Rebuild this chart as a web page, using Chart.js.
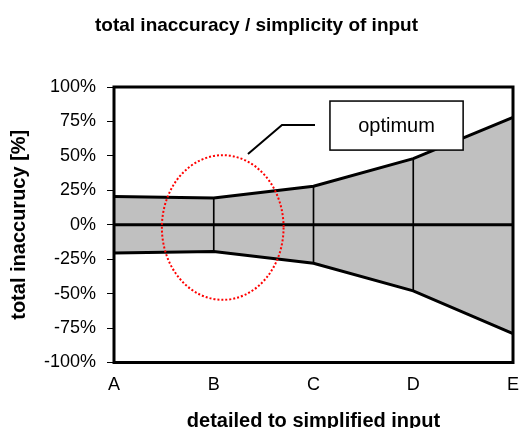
<!DOCTYPE html>
<html><head><meta charset="utf-8">
<script src="https://cdn.jsdelivr.net/npm/chart.js@4/dist/chart.umd.min.js"></script>
<style>html,body{margin:0;padding:0;background:#fff;} canvas{display:block;}</style>
</head><body>
<canvas id="c" width="520" height="428"></canvas>
<script>
// ---- data ----
const categories = ['A', 'B', 'C', 'D', 'E'];
const upperBound = [20.5, 19.5, 28, 48, 78];
const lowerBound = [-20.5, -19.5, -28, -48, -79];
const zeroLine = [0, 0, 0, 0, 0];
const yTickValues = [-100, -75, -50, -25, 0, 25, 50, 75, 100];
const chartTitle = 'total inaccuracy / simplicity of input';
const xTitle = 'detailed to simplified input';
const yTitle = 'total inaccurucy [%]';
const annotationText = 'optimum';
// annotation anchors in data coordinates (category index, percent)
const optimumEllipse = { x: 1.09, y: -2, rx: 0.61, ry: 52.5 };
const optimumBox = { x1: 2.165, x2: 3.5, y1: 89.8, y2: 54.2 };
const calloutPath = [[1.343, 51.3], [1.684, 72.4], [2.015, 72.4]];

// vertical dividers between bounds at inner categories
const dividers = categories.map((c, i) => (i === 0 || i === categories.length - 1) ? null : [lowerBound[i], upperBound[i]]);

const FONT = '"Liberation Sans", Arial, Helvetica, sans-serif';

const overlay = {
  id: 'overlay',
  afterDatasetsDraw(chart) {
    const { ctx, chartArea: a, scales: { x, y } } = chart;
    ctx.save();
    // plot border
    ctx.lineWidth = 3; ctx.strokeStyle = '#000';
    ctx.strokeRect(a.left, a.top, a.right - a.left, a.bottom - a.top);
    // callout line
    ctx.lineWidth = 2;
    ctx.beginPath();
    calloutPath.forEach((p, i) => {
      const px = x.getPixelForValue(p[0]), py = y.getPixelForValue(p[1]);
      if (i) ctx.lineTo(px, py); else ctx.moveTo(px, py);
    });
    ctx.stroke();
    // label box
    const bx1 = x.getPixelForValue(optimumBox.x1), bx2 = x.getPixelForValue(optimumBox.x2);
    const by1 = y.getPixelForValue(optimumBox.y1), by2 = y.getPixelForValue(optimumBox.y2);
    ctx.fillStyle = '#fff';
    ctx.fillRect(bx1, by1, bx2 - bx1, by2 - by1);
    ctx.lineWidth = 1.5; ctx.strokeStyle = '#000';
    ctx.strokeRect(bx1, by1, bx2 - bx1, by2 - by1);
    ctx.fillStyle = '#000';
    ctx.font = '20px ' + FONT;
    ctx.textAlign = 'center'; ctx.textBaseline = 'middle';
    ctx.fillText(annotationText, (bx1 + bx2) / 2, (by1 + by2) / 2 + 1);
    // dotted ellipse
    const cx = x.getPixelForValue(optimumEllipse.x), cy = y.getPixelForValue(optimumEllipse.y);
    const rx = x.getPixelForValue(optimumEllipse.x + optimumEllipse.rx) - cx;
    const ry = cy - y.getPixelForValue(optimumEllipse.y + optimumEllipse.ry);
    ctx.setLineDash([2, 2]);
    ctx.strokeStyle = '#ff0000'; ctx.lineWidth = 2;
    ctx.beginPath(); ctx.ellipse(cx, cy, rx, ry, 0, 0, Math.PI * 2); ctx.stroke();
    ctx.restore();
  }
};

new Chart(document.getElementById('c'), {
  type: 'line',
  data: {
    labels: categories,
    datasets: [
      { label: 'upper', data: upperBound, borderColor: '#000', borderWidth: 3, pointRadius: 0,
        fill: '+1', backgroundColor: '#c0c0c0', tension: 0, order: 1 },
      { label: 'lower', data: lowerBound, borderColor: '#000', borderWidth: 3, pointRadius: 0,
        fill: false, tension: 0, order: 1 },
      { label: 'zero', data: zeroLine, borderColor: '#000', borderWidth: 3, pointRadius: 0,
        fill: false, order: 0 },
      { type: 'bar', label: 'dividers', data: dividers, backgroundColor: '#000', borderWidth: 0,
        barThickness: 1, order: 2 }
    ]
  },
  options: {
    responsive: false,
    devicePixelRatio: 1,
    animation: false,
    layout: { padding: { left: 0, right: 7, top: 0, bottom: 0 } },
    plugins: {
      legend: { display: false },
      tooltip: { enabled: false },
      filler: { drawTime: 'beforeDatasetsDraw' },
      title: {
        display: true, text: chartTitle, color: '#000',
        font: { family: FONT, size: 19, weight: 'bold' },
        padding: { top: 14.3, bottom: 49.9 }
      }
    },
    scales: {
      x: {
        offset: false,
        grid: { display: false, drawTicks: false, offset: false },
        border: { display: false },
        ticks: { color: '#000', font: { family: FONT, size: 18 }, padding: 12, maxRotation: 0, autoSkip: false },
        title: { display: true, text: xTitle, color: '#000',
          font: { family: FONT, size: 20, weight: 'bold', lineHeight: 0.7 }, padding: 0 },
        afterFit(s) { s.height = 65.5; s.paddingLeft = 0; s.paddingRight = 0; }
      },
      y: {
        min: -100, max: 100,
        afterBuildTicks(s) { s.ticks = yTickValues.map(v => ({ value: v })); },
        grid: { drawOnChartArea: false, drawTicks: true, tickLength: 7, color: '#000', tickColor: '#000', tickWidth: 1 },
        border: { display: false },
        ticks: { color: '#000', font: { family: FONT, size: 18 }, padding: 11, callback: v => v + '%' },
        title: { display: true, text: yTitle, color: '#000',
          font: { family: FONT, size: 20, weight: 'bold' }, padding: { top: 7, bottom: 0 } },
        afterFit(s) { s.width = 114; s.paddingTop = 0; s.paddingBottom = 0; }
      }
    }
  },
  plugins: [overlay]
});
</script>
</body></html>
